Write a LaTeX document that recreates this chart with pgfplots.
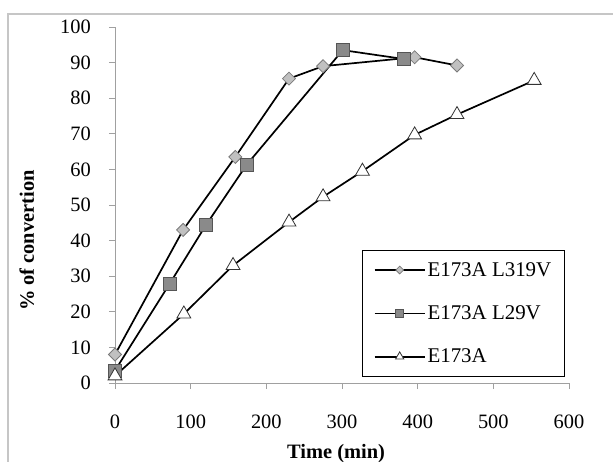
\documentclass[border=0pt]{standalone}
\usepackage{fontspec}
\setmainfont{Liberation Serif}
\usepackage{pgfplots}
\pgfplotsset{compat=1.18}
\definecolor{dmfill}{HTML}{C0C0C0}
\definecolor{dmedge}{HTML}{7A7A7A}
\definecolor{sqfill}{HTML}{8A8A8A}
\definecolor{sqedge}{HTML}{555555}
\definecolor{axgray}{HTML}{A0A0A0}
\begin{document}
\begin{tikzpicture}
\useasboundingbox (-115bp,-79bp) rectangle (498bp,383bp);
% outer chart frame (left and top edges visible)
\draw[gray!45, line width=1.2bp] (-107bp,-79bp) -- (-107bp,369bp) -- (498bp,369bp);
\begin{axis}[
    at={(0,0)}, anchor=south west,
    scale only axis,
    width=454bp, height=356bp,
    xmin=0, xmax=600, ymin=0, ymax=100,
    xtick={0,100,...,600},
    ytick={0,10,...,100},
    axis x line*=bottom, axis y line*=left,
    axis line style={axgray, line width=0.8bp},
    tick style={axgray, line width=0.8bp},
    tick align=outside,
    major tick length=6bp,
    clip=false,
    /pgf/number format/assume math mode=true,
    ticklabel style={font=\fontsize{20.5}{24}\selectfont, inner sep=0pt},
    xticklabel style={anchor=north, yshift=-26bp},
    yticklabel style={anchor=east, xshift=-18bp},
    xlabel={\textbf{Time (min)}},
    ylabel={\textbf{\% of convertion}},
    label style={font=\fontsize{20.5}{24}\selectfont},
    xlabel style={at={(axis description cs:0.487,-0.197)}, anchor=center},
    ylabel style={at={(axis description cs:-0.194,0.40)}, anchor=center},
    legend style={
        at={(rel axis cs:0.991,0.017)}, anchor=south east,
        draw=black, line width=1.2bp,
        font=\fontsize{21}{24}\selectfont,
        row sep=24bp, inner xsep=11bp, inner ysep=10bp,
        cells={anchor=west},
    },
    legend image code/.code={
        \draw[mark repeat=2, mark phase=2, #1]
            plot coordinates {(0bp,0bp) (25bp,0bp) (50bp,0bp)};
    },
    legend image post style={line width=1.7bp, every mark/.append style={scale=0.6}},
    every axis plot/.append style={black, line width=1.7bp},
]
% E173A L319V
\addplot[black, line width=1.7bp, mark=square*, mark size=4.6bp,
    mark options={rotate=45, fill=dmfill, draw=dmedge, line width=0.8bp}]
    coordinates {(0,8) (90,43) (159,63.5) (230,85.5) (275,89) (396,91.5) (452,89.2)};
\addlegendentry{E173A L319V}
% E173A L29V
\addplot[black, line width=1.7bp, mark=square*, mark size=6.5bp,
    mark options={fill=sqfill, draw=sqedge, line width=0.8bp}]
    coordinates {(0,3.5) (72,27.8) (120,44.3) (174,61.3) (301,93.5) (382,91)};
\addlegendentry{E173A L29V}
% E173A
\addplot[black, line width=1.7bp, mark=triangle*, mark size=8bp,
    mark options={fill=white, draw=black!80, line width=0.8bp}]
    coordinates {(0,2) (91,19.4) (156,33) (230,45.2) (275,52.3) (327,59.5) (396,69.7) (452,75.4) (554,85)};
\addlegendentry{E173A}
\end{axis}
\end{tikzpicture}
\end{document}
